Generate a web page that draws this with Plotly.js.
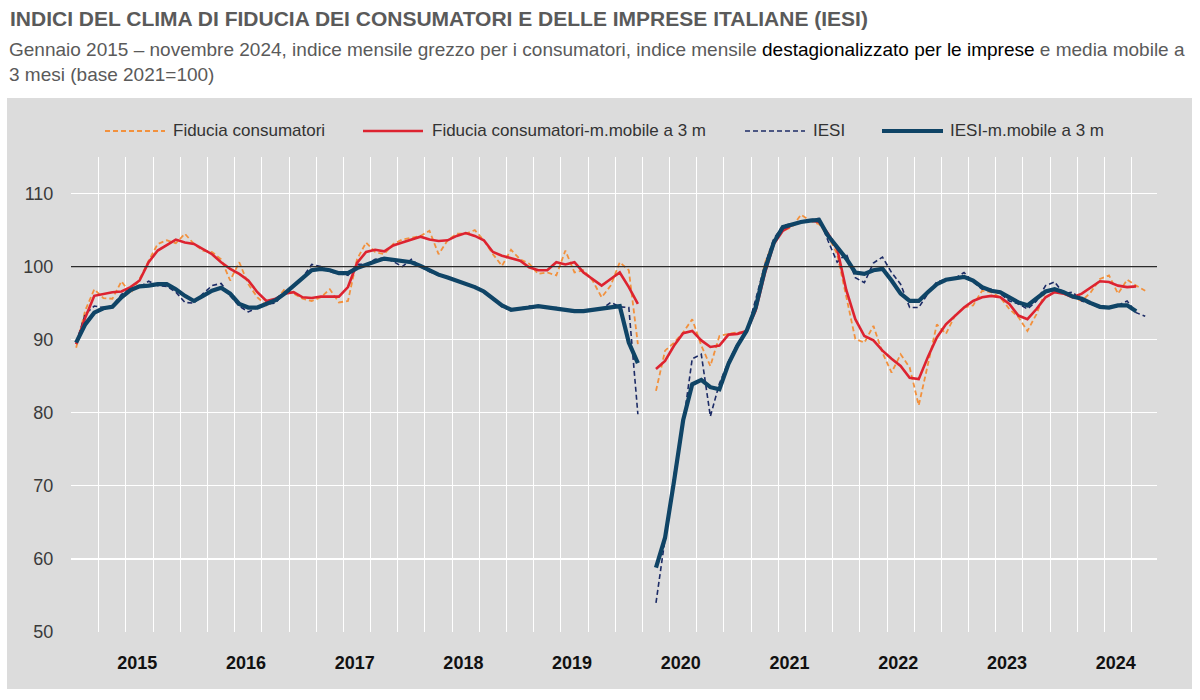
<!DOCTYPE html>
<html>
<head>
<meta charset="utf-8">
<script src="https://cdn.plot.ly/plotly-3.0.1.min.js"></script>
<style>html,body{margin:0;padding:0;background:#fff;}#chart{width:1200px;height:700px;}</style>
</head>
<body>
<div id="chart"></div>
<script>
// Months: January 2015 (index 0) to November 2024 (index 118); April 2020 missing
var startYear = 2015;
var years = ['2015','2016','2017','2018','2019','2020','2021','2022','2023','2024'];

var fiduciaConsumatori = [
 88.9,94.0,96.9,95.7,95.6,98.0,96.3,98.3,100.8,103.1,103.6,103.2,
 104.5,103.1,102.2,102.0,101.0,98.1,100.6,97.6,95.8,94.7,95.3,96.9,
 96.3,95.6,95.3,95.8,96.9,95.1,95.3,101.0,103.3,102.0,101.7,103.1,
 103.7,104.0,104.2,104.9,101.7,103.6,104.5,104.5,105.0,103.6,101.7,100.1,
 102.3,101.0,100.4,99.0,99.2,98.8,102.2,99.2,99.5,98.1,95.8,97.4,
 100.6,99.5,89.4,null,83.0,88.5,89.6,91.0,92.8,89.2,86.4,90.5,
 90.8,91.0,91.0,94.7,100.4,103.6,104.9,105.4,107.1,106.3,105.8,104.2,
 101.7,96.0,90.1,89.6,91.9,88.2,85.5,88.0,86.2,81.0,86.7,92.1,
 90.8,93.3,94.4,94.7,96.7,96.5,95.8,94.2,93.1,91.2,93.5,96.7,
 96.7,96.3,95.8,95.3,96.5,98.3,98.8,96.3,98.2,97.4,96.7
];
var fiduciaConsumatoriMM = [
 89.4,93.0,96.0,96.3,96.5,96.6,97.2,98.1,100.6,102.2,102.9,103.7,
 103.3,103.1,102.4,101.7,100.6,99.7,99.0,98.1,96.5,95.3,95.6,96.3,
 96.5,95.8,95.7,95.9,95.9,95.9,97.2,100.5,102.0,102.3,102.1,102.9,
 103.3,103.7,104.1,103.7,103.5,103.6,104.2,104.6,104.2,103.6,102.0,101.5,
 101.1,100.8,99.9,99.5,99.5,100.6,100.3,100.6,99.2,98.3,97.4,98.3,
 99.2,97.2,94.9,null,86.0,87.1,89.2,90.9,91.2,89.9,89.0,89.2,
 90.7,90.8,91.2,94.0,99.0,103.1,104.9,105.7,106.1,106.3,106.1,104.5,
 102.4,96.8,92.8,90.5,89.9,88.5,87.4,86.4,84.8,84.6,87.6,90.3,
 92.1,93.3,94.4,95.3,95.8,96.0,95.8,94.9,93.3,92.8,94.2,95.8,
 96.5,96.3,95.8,96.3,97.2,98.0,97.9,97.4,97.2,97.3,null
];
var iesi = [
 89.6,93.5,94.6,94.4,94.6,96.2,97.0,97.2,98.0,97.4,97.3,96.5,
 95.1,95.0,96.3,97.4,97.7,96.0,94.6,93.8,94.4,94.9,95.0,96.5,
 97.4,98.5,100.3,100.0,99.3,99.0,98.8,100.3,100.3,101.0,101.2,100.7,
 100.0,101.0,100.0,99.3,98.8,98.6,98.0,97.7,97.3,96.5,95.5,94.5,
 94.0,94.3,94.6,94.5,94.3,94.4,94.0,93.8,94.0,94.2,94.2,95.1,
 94.5,94.4,79.8,null,54.0,63.0,71.5,78.5,87.4,88.0,79.5,84.0,
 87.0,89.5,91.0,95.5,100.2,103.8,105.6,105.9,106.0,106.4,106.6,103.5,
 100.6,101.8,98.5,97.8,100.5,101.3,99.2,97.6,94.4,94.4,96.3,97.9,
 98.3,98.4,99.2,97.9,96.9,96.9,96.3,95.3,94.9,94.2,95.3,97.4,
 97.9,96.3,96.5,95.3,94.9,94.4,94.4,94.7,95.3,93.7,93.2
];
var iesiMM = [
 89.6,92.1,93.7,94.3,94.5,95.8,96.8,97.3,97.4,97.6,97.6,96.9,
 96.0,95.3,96.0,96.7,97.1,96.3,94.9,94.4,94.4,94.9,95.4,96.3,
 97.4,98.5,99.5,99.7,99.5,99.1,99.1,99.8,100.3,100.7,101.1,100.9,
 100.7,100.6,100.1,99.5,98.9,98.5,98.1,97.7,97.2,96.6,95.6,94.7,
 94.1,94.2,94.4,94.6,94.4,94.3,94.1,93.9,93.9,94.1,94.3,94.5,
 94.6,89.6,86.8,null,58.8,62.9,70.7,79.0,83.9,84.5,83.5,83.2,
 86.7,89.2,91.2,94.4,99.5,103.3,105.4,105.8,106.1,106.3,106.4,104.2,
 102.6,101.1,99.2,99.0,99.5,99.7,98.1,96.3,95.3,95.3,96.5,97.6,
 98.2,98.4,98.6,98.1,97.2,96.7,96.5,95.8,95.1,94.7,95.6,96.6,
 96.9,96.5,95.9,95.6,95.0,94.5,94.4,94.7,94.7,93.9,null
];

var seriesNames = ['Fiducia consumatori','Fiducia consumatori-m.mobile a 3 m','IESI','IESI-m.mobile a 3 m'];
var title = 'INDICI DEL CLIMA DI FIDUCIA DEI CONSUMATORI E DELLE IMPRESE ITALIANE (IESI)';
var subtitle = 'Gennaio 2015 \u2013 novembre 2024, indice mensile grezzo per i consumatori, indice mensile <span style="color:#000000">destagionalizzato per le imprese</span> e media mobile a<br>3 mesi (base 2021=100)';

// ---- layout helpers ----
var L = 71, R = 1157, T = 157, B = 632;
function px(x){ return (x - L) / (R - L); }
function py(y){ return (B - y) / (B - T); }

var xIdx = fiduciaConsumatori.map(function(_, i){ return i; });
var monthLabels = xIdx.map(function(i){
  var y = startYear + Math.floor(i/12), m = (i % 12) + 1;
  return y + '-' + (m < 10 ? '0' + m : m);
});

var FONT = '"Liberation Sans", Arial, sans-serif';
var cOrange = '#f2913d', cRed = '#dd2330', cNavyD = '#1c2b66', cNavy = '#0f4466';

function tr(y, name, color, width, dash){
  return {x: xIdx, y: y, name: name, type: 'scatter', mode: 'lines', connectgaps: false,
    text: monthLabels, hovertemplate: '%{text}: %{y}<extra>' + name + '</extra>',
    line: {color: color, width: width, dash: dash}, showlegend: false};
}
var data = [
  tr(fiduciaConsumatori, seriesNames[0], cOrange, 1.8, '5px,3px'),
  tr(iesi, seriesNames[2], cNavyD, 1.6, '5px,3px'),
  tr(fiduciaConsumatoriMM, seriesNames[1], cRed, 2.6, 'solid'),
  tr(iesiMM, seriesNames[3], cNavy, 4.2, 'solid')
];

var legendY = py(131);
var legendItems = [
  {x0: 105, x1: 165, tx: 171, color: cOrange, width: 1.8, dash: '5px,3px', name: seriesNames[0]},
  {x0: 363, x1: 423, tx: 430, color: cRed, width: 2.6, dash: 'solid', name: seriesNames[1]},
  {x0: 745, x1: 805, tx: 811, color: cNavyD, width: 1.6, dash: '5px,3px', name: seriesNames[2]},
  {x0: 882, x1: 943, tx: 948, color: cNavy, width: 4.2, dash: 'solid', name: seriesNames[3]}
];

var shapes = [
  {type: 'rect', xref: 'paper', yref: 'paper', x0: px(7), x1: px(1192), y0: py(689), y1: py(98),
   fillcolor: '#dcdcdc', line: {width: 0}, layer: 'below'},
  {type: 'line', xref: 'paper', yref: 'y', x0: 0, x1: 1, y0: 100, y1: 100,
   line: {color: '#2b2b2b', width: 1.2}}
];
var annotations = [
  {xref: 'paper', yref: 'paper', x: px(8), y: py(19), xanchor: 'left', yanchor: 'middle', showarrow: false,
   text: '<b>' + title + '</b>', font: {family: FONT, size: 21, color: '#5a5a5a'}},
  {xref: 'paper', yref: 'paper', x: px(7), y: py(37), xanchor: 'left', yanchor: 'top', showarrow: false, align: 'left',
   text: subtitle, font: {family: FONT, size: 19, color: '#5a5a5a'}}
];
legendItems.forEach(function(it){
  shapes.push({type: 'line', xref: 'paper', yref: 'paper', x0: px(it.x0), x1: px(it.x1), y0: legendY, y1: legendY,
    line: {color: it.color, width: it.width, dash: it.dash}});
  annotations.push({xref: 'paper', yref: 'paper', x: px(it.tx), y: legendY, xanchor: 'left', yanchor: 'middle',
    showarrow: false, text: it.name, font: {family: FONT, size: 17, color: '#333333'}});
});

var yearTickPos = years.map(function(_, i){ return 12 * i + 6.74; });

var layout = {
  width: 1200, height: 700,
  margin: {l: L, r: 1200 - R, t: T, b: 700 - B, pad: 0},
  paper_bgcolor: '#ffffff', plot_bgcolor: '#dcdcdc',
  showlegend: false,
  xaxis: {
    type: 'linear', range: [-0.57, 119.3], showgrid: false, zeroline: false, showline: false,
    tickmode: 'array', tickvals: yearTickPos, ticktext: years,
    ticks: 'outside', ticklen: 14, tickcolor: 'rgba(0,0,0,0)',
    tickfont: {family: FONT, size: 18, color: '#111111', weight: 'bold'},
    minor: {tickmode: 'linear', tick0: -0.5, dtick: 3, showgrid: true, gridcolor: '#ffffff', gridwidth: 1, ticks: ''}
  },
  yaxis: {
    range: [50, 115], tickmode: 'linear', tick0: 50, dtick: 10, showgrid: true, gridcolor: '#ffffff', gridwidth: 1.2,
    zeroline: false, showline: false, ticks: 'outside', ticklen: 13, tickcolor: 'rgba(0,0,0,0)',
    tickfont: {family: FONT, size: 18, color: '#3a3a3a'}
  },
  shapes: shapes,
  annotations: annotations,
  font: {family: FONT}
};

Plotly.newPlot('chart', data, layout, {displayModeBar: false, staticPlot: true});
</script>
</body>
</html>
